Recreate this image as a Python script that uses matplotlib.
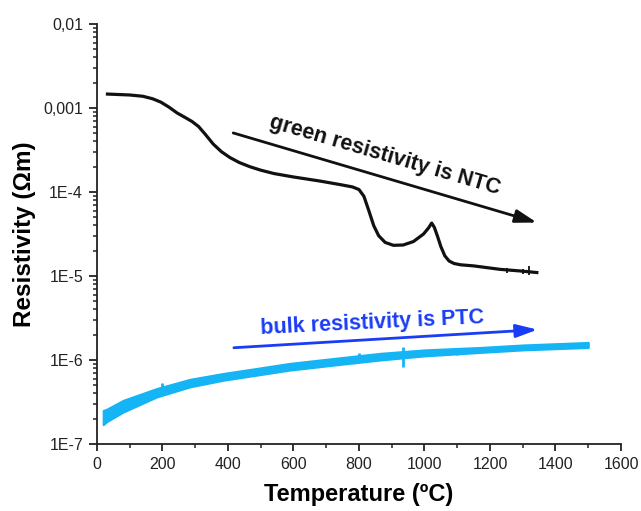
import matplotlib
matplotlib.use("Agg")
import matplotlib.pyplot as plt
from matplotlib.ticker import FixedLocator, FixedFormatter, MultipleLocator, LogLocator, NullFormatter

plt.rcParams['font.family'] = ['Liberation Sans', 'DejaVu Sans']

# green (black) resistivity curve, temperature in C, resistivity in Ohm m
green_T = [32, 100, 140, 170, 195, 220, 245, 268, 290, 310, 330, 355, 380, 406, 435, 467,
           500, 540, 600, 681, 740, 780, 800, 815, 830, 845, 860, 880, 905, 935, 966, 997,
           1012, 1022, 1030, 1040, 1050, 1062, 1075, 1090, 1110, 1150, 1231, 1290, 1343]
green_R = [1.466e-3, 1.429e-3, 1.380e-3, 1.288e-3, 1.175e-3, 1.023e-3, 8.71e-4, 7.76e-4,
           6.92e-4, 6.03e-4, 4.90e-4, 3.72e-4, 3.02e-4, 2.57e-4, 2.24e-4, 2.00e-4,
           1.82e-4, 1.66e-4, 1.51e-4, 1.35e-4, 1.23e-4, 1.15e-4, 1.07e-4, 8.9e-5,
           6.0e-5, 3.98e-5, 3.02e-5, 2.51e-5, 2.32e-5, 2.34e-5, 2.57e-5, 3.16e-5,
           3.72e-5, 4.27e-5, 3.80e-5, 2.95e-5, 2.24e-5, 1.74e-5, 1.51e-5, 1.41e-5,
           1.36e-5, 1.32e-5, 1.20e-5, 1.15e-5, 1.10e-5]
# small glitches at the end of the green curve (T, low, high)
green_spike_T = [1252, 1300, 1320]
green_spike_lo = [1.08e-5, 1.05e-5, 1.02e-5]
green_spike_hi = [1.24e-5, 1.22e-5, 1.30e-5]

# bulk resistivity: noisy band, lower and upper edge
bulk_T = [19, 30, 80, 182, 284, 386, 488, 589, 700, 864, 1000, 1169, 1300, 1500]
bulk_lo = [1.70e-7, 1.85e-7, 2.40e-7, 3.63e-7, 4.79e-7, 5.75e-7, 6.61e-7, 7.59e-7, 8.5e-7,
           1.0e-6, 1.12e-6, 1.23e-6, 1.32e-6, 1.41e-6]
bulk_hi = [2.51e-7, 2.6e-7, 3.31e-7, 4.57e-7, 5.89e-7, 6.92e-7, 7.94e-7, 9.12e-7, 1.02e-6,
           1.2e-6, 1.32e-6, 1.41e-6, 1.51e-6, 1.62e-6]
bulk_spike_T = [200, 800, 935, 1100]
bulk_spike_lo = [4.0e-7, 9.5e-7, 8.3e-7, 1.15e-6]
bulk_spike_hi = [5.3e-7, 1.22e-6, 1.41e-6, 1.40e-6]

yticks = [1e-7, 1e-6, 1e-5, 1e-4, 1e-3, 1e-2]
ylabels = ['1E-7', '1E-6', '1E-5', '1E-4', '0,001', '0,01']

black = '#111111'
light_blue = '#14b4f5'
dark_blue = '#1a3cf5'

fig = plt.figure(figsize=(6.41, 5.11), dpi=100)
ax = fig.add_axes([0.1513, 0.1311, 0.8175, 0.8219])

ax.fill_between(bulk_T, bulk_lo, bulk_hi, color=light_blue, lw=1.5)
ax.vlines(bulk_spike_T, bulk_spike_lo, bulk_spike_hi, color=light_blue, lw=2)
ax.plot(green_T, green_R, color=black, lw=2.3, solid_joinstyle='round')
ax.vlines(green_spike_T, green_spike_lo, green_spike_hi, color=black, lw=1.3)

ax.set_yscale('log')
ax.set_xlim(0, 1600)
ax.set_ylim(1e-7, 1e-2)

# arrows and notes
ax.annotate('', xy=(1343, 4.33e-5), xytext=(416, 5.05e-4),
            arrowprops=dict(arrowstyle='-|>,head_length=1.3,head_width=0.4', color=black,
                            lw=2, mutation_scale=10, shrinkA=0, shrinkB=0))
ax.text(873, 2.37e-4, 'green resistivity is NTC', rotation=-16.3, rotation_mode='anchor',
        ha='center', va='baseline', fontsize=15.5, fontweight='bold', color=black)

ax.annotate('', xy=(1345, 2.3e-6), xytext=(418, 1.40e-6),
            arrowprops=dict(arrowstyle='-|>,head_length=1.3,head_width=0.4', color=dark_blue,
                            lw=2, mutation_scale=10, shrinkA=0, shrinkB=0))
ax.text(841, 2.38e-6, 'bulk resistivity is PTC', rotation=2.8, rotation_mode='anchor',
        ha='center', va='baseline', fontsize=15.5, fontweight='bold', color=dark_blue)

# axes styling
for side in ['top', 'right']:
    ax.spines[side].set_visible(False)
for side in ['left', 'bottom']:
    ax.spines[side].set_linewidth(1.3)
    ax.spines[side].set_color('#222222')

ax.xaxis.set_major_locator(MultipleLocator(200))
ax.xaxis.set_minor_locator(MultipleLocator(100))
ax.yaxis.set_major_locator(FixedLocator(yticks))
ax.yaxis.set_major_formatter(FixedFormatter(ylabels))
ax.yaxis.set_minor_locator(LogLocator(base=10, subs=range(2, 10), numticks=20))
ax.yaxis.set_minor_formatter(NullFormatter())
ax.tick_params(which='major', length=5, width=1.3, color='#222222', labelsize=11.5, pad=4,
               labelcolor='#222222')
ax.tick_params(axis='y', which='major', length=6)
ax.tick_params(which='minor', length=2.8, width=1.1, color='#222222')

ax.set_xlabel('Temperature (ºC)', fontsize=17, fontweight='bold', labelpad=8)
ax.set_ylabel('Resistivity (Ωm)', fontsize=17.5, fontweight='bold', labelpad=5)

fig.savefig('out.png', dpi=100)
